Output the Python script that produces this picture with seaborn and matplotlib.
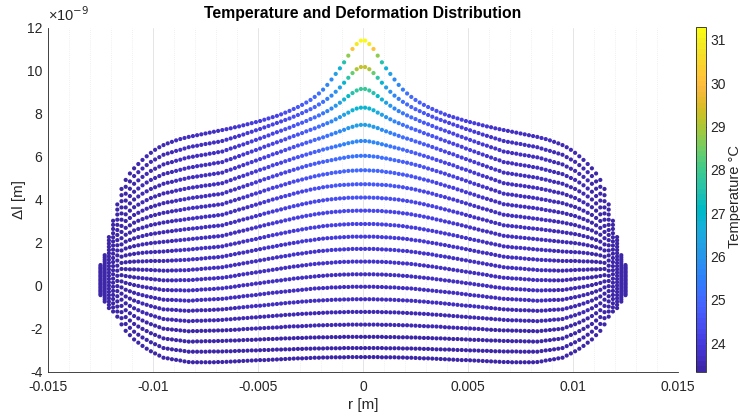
import numpy as np
import pandas as pd
import matplotlib
matplotlib.use("Agg")
import matplotlib.pyplot as plt
import seaborn as sns
from matplotlib.colors import ListedColormap, Normalize

# ---------------- data ----------------
# radial node positions of one half (r > 0); the chart is mirror-symmetric about r = 0
r_half = [0.0001, 0.0003, 0.0005, 0.0007, 0.0009, 0.0011, 0.0013, 0.0015, 0.0017, 0.0019,
          0.0021, 0.0023, 0.0025, 0.0027, 0.0029, 0.0031, 0.0033, 0.0035, 0.0037, 0.0039,
          0.0041, 0.0043, 0.0045, 0.0047, 0.0049, 0.0051, 0.0053, 0.0055, 0.0057, 0.0059,
          0.0061, 0.0063, 0.0065, 0.0067, 0.0069, 0.0071, 0.0073, 0.0075, 0.0077, 0.0079,
          0.0081, 0.0083, 0.0085, 0.0087, 0.0089, 0.0091, 0.0093, 0.0095, 0.0097, 0.0099,
          0.0101, 0.0103, 0.0105, 0.0107, 0.0109, 0.0111, 0.0113, 0.0115, 0.0117, 0.0119,
          0.0121, 0.0123, 0.0125]

# deformation (x1e-9 m) of each node row, from the bottom row (00) to the top row (22)
dl_row00 = [-3.32, -3.32, -3.32, -3.32, -3.33, -3.33, -3.33, -3.33, -3.34, -3.34,
            -3.35, -3.35, -3.36, -3.37, -3.38, -3.38, -3.39, -3.40, -3.41, -3.42,
            -3.43, -3.44, -3.45, -3.46, -3.46, -3.47, -3.48, -3.49, -3.50, -3.51,
            -3.52, -3.53, -3.54, -3.55, -3.55, -3.56, -3.56, -3.56, -3.56, -3.56,
            -3.56, -3.55, -3.52, -3.48, -3.45, -3.42, -3.38, -3.35, -3.25, -3.15,
            -3.05, -2.93, -2.80, -2.65, -2.50, -2.30, -2.10, -1.80, -1.44, -1.20,
            -1.04, -0.74, -0.44]
dl_row01 = [-2.90, -2.90, -2.90, -2.90, -2.90, -2.91, -2.91, -2.91, -2.91, -2.92,
            -2.92, -2.92, -2.93, -2.93, -2.94, -2.94, -2.95, -2.96, -2.96, -2.97,
            -2.97, -2.98, -2.99, -2.99, -3.00, -3.01, -3.01, -3.02, -3.03, -3.03,
            -3.04, -3.05, -3.05, -3.06, -3.06, -3.06, -3.06, -3.07, -3.07, -3.07,
            -3.07, -3.07, -3.04, -3.01, -2.99, -2.96, -2.93, -2.90, -2.81, -2.72,
            -2.63, -2.52, -2.41, -2.28, -2.14, -1.96, -1.78, -1.51, -1.20, -1.01,
            -0.89, -0.64, -0.38]
dl_row02 = [-2.38, -2.38, -2.38, -2.38, -2.38, -2.39, -2.39, -2.39, -2.40, -2.40,
            -2.40, -2.41, -2.41, -2.42, -2.43, -2.43, -2.44, -2.45, -2.45, -2.46,
            -2.47, -2.48, -2.48, -2.49, -2.50, -2.51, -2.52, -2.52, -2.53, -2.54,
            -2.55, -2.55, -2.56, -2.57, -2.57, -2.58, -2.58, -2.58, -2.59, -2.59,
            -2.60, -2.60, -2.58, -2.55, -2.53, -2.50, -2.48, -2.45, -2.37, -2.29,
            -2.21, -2.11, -2.01, -1.90, -1.78, -1.62, -1.46, -1.23, -0.97, -0.82,
            -0.74, -0.54, -0.31]
dl_row03 = [-1.81, -1.81, -1.81, -1.81, -1.82, -1.82, -1.82, -1.83, -1.83, -1.84,
            -1.84, -1.85, -1.86, -1.87, -1.88, -1.89, -1.89, -1.90, -1.91, -1.93,
            -1.94, -1.95, -1.96, -1.97, -1.98, -1.99, -2.00, -2.01, -2.02, -2.04,
            -2.05, -2.06, -2.07, -2.08, -2.08, -2.09, -2.09, -2.10, -2.10, -2.11,
            -2.11, -2.12, -2.10, -2.08, -2.06, -2.04, -2.02, -2.00, -1.93, -1.86,
            -1.79, -1.71, -1.62, -1.52, -1.41, -1.28, -1.14, -0.94, -0.73, -0.62,
            -0.59, -0.45, -0.25]
dl_row04 = [-1.22, -1.22, -1.22, -1.22, -1.23, -1.23, -1.24, -1.24, -1.25, -1.26,
            -1.27, -1.28, -1.29, -1.30, -1.31, -1.32, -1.34, -1.35, -1.36, -1.38,
            -1.39, -1.41, -1.42, -1.44, -1.45, -1.47, -1.48, -1.50, -1.51, -1.53,
            -1.54, -1.56, -1.57, -1.59, -1.60, -1.61, -1.61, -1.62, -1.63, -1.63,
            -1.64, -1.65, -1.63, -1.62, -1.60, -1.58, -1.57, -1.55, -1.49, -1.43,
            -1.37, -1.30, -1.23, -1.14, -1.05, -0.94, -0.82, -0.65, -0.49, -0.43,
            -0.44, -0.35, -0.19]
dl_row05 = [-0.63, -0.63, -0.63, -0.64, -0.64, -0.65, -0.65, -0.66, -0.67, -0.68,
            -0.69, -0.70, -0.71, -0.73, -0.74, -0.76, -0.78, -0.79, -0.81, -0.83,
            -0.85, -0.87, -0.89, -0.91, -0.93, -0.94, -0.96, -0.98, -1.00, -1.02,
            -1.04, -1.06, -1.08, -1.10, -1.11, -1.12, -1.13, -1.14, -1.14, -1.15,
            -1.16, -1.17, -1.16, -1.15, -1.13, -1.12, -1.11, -1.10, -1.05, -1.00,
            -0.95, -0.89, -0.83, -0.76, -0.69, -0.60, -0.50, -0.37, -0.25, -0.24,
            -0.29, -0.25, -0.12]
dl_row06 = [-0.05, -0.05, -0.05, -0.06, -0.06, -0.07, -0.08, -0.08, -0.10, -0.11,
            -0.12, -0.13, -0.15, -0.17, -0.19, -0.21, -0.23, -0.25, -0.27, -0.29,
            -0.31, -0.33, -0.35, -0.38, -0.40, -0.43, -0.45, -0.47, -0.49, -0.52,
            -0.54, -0.56, -0.59, -0.61, -0.62, -0.63, -0.64, -0.65, -0.66, -0.67,
            -0.69, -0.70, -0.69, -0.68, -0.67, -0.66, -0.66, -0.65, -0.61, -0.57,
            -0.53, -0.49, -0.44, -0.39, -0.33, -0.26, -0.19, -0.08, -0.02, -0.05,
            -0.14, -0.15, -0.06]
dl_row07 = [0.53, 0.53, 0.53, 0.52, 0.52, 0.51, 0.50, 0.49, 0.48, 0.46,
            0.45, 0.43, 0.41, 0.39, 0.37, 0.35, 0.33, 0.30, 0.28, 0.25,
            0.23, 0.20, 0.18, 0.15, 0.12, 0.10, 0.07, 0.04, 0.02, -0.01,
            -0.04, -0.07, -0.09, -0.12, -0.13, -0.15, -0.16, -0.17, -0.18, -0.20,
            -0.21, -0.22, -0.22, -0.21, -0.21, -0.21, -0.20, -0.20, -0.17, -0.14,
            -0.11, -0.08, -0.05, -0.01, 0.03, 0.08, 0.13, 0.20, 0.22, 0.14,
            0.01, -0.05, 0.01]
dl_row08 = [1.12, 1.12, 1.12, 1.11, 1.11, 1.10, 1.09, 1.07, 1.06, 1.04,
            1.03, 1.01, 0.99, 0.96, 0.94, 0.91, 0.89, 0.86, 0.83, 0.80,
            0.77, 0.74, 0.71, 0.68, 0.65, 0.62, 0.59, 0.56, 0.53, 0.50,
            0.46, 0.43, 0.40, 0.37, 0.36, 0.34, 0.33, 0.32, 0.30, 0.29,
            0.27, 0.26, 0.26, 0.26, 0.25, 0.25, 0.25, 0.25, 0.27, 0.29,
            0.31, 0.33, 0.35, 0.37, 0.39, 0.42, 0.45, 0.49, 0.46, 0.33,
            0.16, 0.05, 0.07]
dl_row09 = [1.71, 1.71, 1.71, 1.70, 1.69, 1.68, 1.67, 1.66, 1.64, 1.62,
            1.61, 1.58, 1.56, 1.53, 1.50, 1.48, 1.45, 1.41, 1.38, 1.35,
            1.32, 1.28, 1.25, 1.21, 1.18, 1.14, 1.11, 1.07, 1.04, 1.00,
            0.97, 0.93, 0.90, 0.86, 0.84, 0.83, 0.81, 0.80, 0.78, 0.76,
            0.75, 0.73, 0.72, 0.72, 0.71, 0.71, 0.70, 0.70, 0.71, 0.72,
            0.73, 0.74, 0.74, 0.75, 0.76, 0.76, 0.77, 0.78, 0.70, 0.53,
            0.31, 0.14, 0.13]
dl_row10 = [2.28, 2.28, 2.28, 2.27, 2.26, 2.25, 2.24, 2.22, 2.21, 2.19,
            2.17, 2.14, 2.11, 2.09, 2.06, 2.02, 1.99, 1.96, 1.92, 1.89,
            1.85, 1.81, 1.78, 1.74, 1.70, 1.66, 1.62, 1.58, 1.54, 1.51,
            1.47, 1.43, 1.39, 1.35, 1.33, 1.31, 1.30, 1.28, 1.26, 1.24,
            1.23, 1.21, 1.20, 1.19, 1.18, 1.17, 1.16, 1.15, 1.15, 1.15,
            1.15, 1.14, 1.13, 1.13, 1.12, 1.11, 1.09, 1.06, 0.93, 0.72,
            0.46, 0.24, 0.20]
dl_row11 = [2.87, 2.87, 2.87, 2.86, 2.85, 2.84, 2.82, 2.81, 2.79, 2.77,
            2.74, 2.71, 2.69, 2.65, 2.62, 2.58, 2.55, 2.51, 2.47, 2.43,
            2.39, 2.35, 2.31, 2.26, 2.22, 2.17, 2.13, 2.09, 2.05, 2.00,
            1.96, 1.92, 1.88, 1.83, 1.81, 1.79, 1.77, 1.76, 1.74, 1.72,
            1.70, 1.68, 1.67, 1.65, 1.64, 1.62, 1.61, 1.59, 1.58, 1.57,
            1.56, 1.55, 1.53, 1.51, 1.48, 1.45, 1.41, 1.35, 1.17, 0.91,
            0.61, 0.34, 0.26]
dl_row12 = [3.49, 3.49, 3.48, 3.48, 3.47, 3.45, 3.44, 3.42, 3.40, 3.37,
            3.35, 3.32, 3.28, 3.25, 3.21, 3.17, 3.13, 3.08, 3.04, 2.99,
            2.95, 2.90, 2.86, 2.81, 2.76, 2.71, 2.66, 2.61, 2.56, 2.52,
            2.47, 2.42, 2.37, 2.32, 2.30, 2.28, 2.26, 2.24, 2.22, 2.20,
            2.18, 2.16, 2.14, 2.12, 2.10, 2.08, 2.06, 2.04, 2.02, 2.00,
            1.98, 1.95, 1.92, 1.88, 1.84, 1.79, 1.73, 1.64, 1.41, 1.10,
            0.76, 0.44, 0.32]
dl_row13 = [4.10, 4.10, 4.09, 4.09, 4.07, 4.06, 4.04, 4.02, 4.00, 3.97,
            3.94, 3.91, 3.87, 3.83, 3.79, 3.74, 3.70, 3.65, 3.60, 3.55,
            3.50, 3.45, 3.40, 3.35, 3.29, 3.24, 3.18, 3.13, 3.08, 3.03,
            2.97, 2.92, 2.87, 2.81, 2.79, 2.77, 2.75, 2.73, 2.70, 2.68,
            2.66, 2.64, 2.62, 2.59, 2.57, 2.54, 2.52, 2.49, 2.46, 2.43,
            2.40, 2.36, 2.31, 2.26, 2.20, 2.13, 2.05, 1.92, 1.64, 1.29,
            0.91, 0.54, 0.39]
dl_row14 = [4.72, 4.72, 4.71, 4.70, 4.69, 4.68, 4.66, 4.63, 4.61, 4.58,
            4.54, 4.51, 4.47, 4.42, 4.38, 4.33, 4.28, 4.22, 4.17, 4.12,
            4.06, 4.01, 3.95, 3.89, 3.83, 3.77, 3.71, 3.65, 3.59, 3.54,
            3.48, 3.42, 3.36, 3.30, 3.28, 3.25, 3.23, 3.21, 3.18, 3.16,
            3.13, 3.11, 3.08, 3.05, 3.03, 3.00, 2.97, 2.94, 2.90, 2.86,
            2.82, 2.76, 2.70, 2.64, 2.57, 2.47, 2.37, 2.21, 1.88, 1.49,
            1.06, 0.63, 0.45]
dl_row15 = [5.37, 5.36, 5.35, 5.34, 5.32, 5.29, 5.27, 5.24, 5.20, 5.17,
            5.13, 5.09, 5.04, 4.99, 4.94, 4.89, 4.84, 4.78, 4.72, 4.66,
            4.60, 4.55, 4.48, 4.42, 4.35, 4.29, 4.23, 4.16, 4.10, 4.04,
            3.98, 3.92, 3.86, 3.79, 3.77, 3.74, 3.72, 3.69, 3.67, 3.64,
            3.62, 3.59, 3.56, 3.52, 3.49, 3.46, 3.42, 3.39, 3.34, 3.29,
            3.24, 3.17, 3.10, 3.02, 2.93, 2.81, 2.69, 2.50, 2.12, 1.68,
            1.21, 0.73, 0.51]
dl_row16 = [6.04, 6.03, 6.01, 5.99, 5.95, 5.92, 5.88, 5.84, 5.80, 5.76,
            5.72, 5.67, 5.62, 5.57, 5.51, 5.45, 5.39, 5.33, 5.27, 5.21,
            5.14, 5.08, 5.01, 4.95, 4.88, 4.81, 4.74, 4.68, 4.61, 4.55,
            4.48, 4.42, 4.35, 4.28, 4.25, 4.23, 4.20, 4.17, 4.14, 4.12,
            4.09, 4.06, 4.02, 3.99, 3.95, 3.91, 3.88, 3.84, 3.78, 3.72,
            3.66, 3.58, 3.49, 3.39, 3.29, 3.15, 3.01, 2.78, 2.36, 1.87,
            1.36, 0.83, 0.58]
dl_row17 = [6.73, 6.71, 6.67, 6.63, 6.58, 6.53, 6.48, 6.43, 6.38, 6.33,
            6.27, 6.22, 6.16, 6.10, 6.04, 5.98, 5.92, 5.85, 5.79, 5.72,
            5.66, 5.60, 5.52, 5.45, 5.39, 5.32, 5.25, 5.18, 5.11, 5.05,
            4.98, 4.91, 4.84, 4.77, 4.74, 4.71, 4.68, 4.66, 4.63, 4.60,
            4.57, 4.54, 4.50, 4.46, 4.42, 4.37, 4.33, 4.29, 4.22, 4.15,
            4.08, 3.98, 3.88, 3.77, 3.65, 3.49, 3.32, 3.07, 2.59, 2.06,
            1.51, 0.93, 0.64]
dl_row18 = [7.48, 7.45, 7.39, 7.33, 7.25, 7.18, 7.11, 7.04, 6.97, 6.90,
            6.84, 6.78, 6.71, 6.65, 6.58, 6.52, 6.45, 6.38, 6.31, 6.24,
            6.17, 6.11, 6.03, 5.96, 5.89, 5.82, 5.75, 5.68, 5.61, 5.54,
            5.47, 5.40, 5.34, 5.26, 5.23, 5.20, 5.17, 5.14, 5.11, 5.08,
            5.05, 5.02, 4.97, 4.93, 4.88, 4.83, 4.79, 4.74, 4.66, 4.58,
            4.50, 4.39, 4.28, 4.15, 4.01, 3.83, 3.64, 3.36, 2.83, 2.25,
            1.66, 1.03, 0.70]
dl_row19 = [8.28, 8.24, 8.16, 8.05, 7.95, 7.84, 7.74, 7.64, 7.56, 7.48,
            7.40, 7.32, 7.25, 7.18, 7.10, 7.03, 6.96, 6.89, 6.81, 6.74,
            6.67, 6.60, 6.53, 6.46, 6.38, 6.31, 6.24, 6.17, 6.10, 6.03,
            5.96, 5.89, 5.83, 5.75, 5.72, 5.69, 5.65, 5.62, 5.59, 5.56,
            5.52, 5.49, 5.44, 5.39, 5.34, 5.29, 5.24, 5.19, 5.10, 5.01,
            4.92, 4.80, 4.67, 4.52, 4.37, 4.17, 3.96, 3.64, 3.07, 2.44,
            1.81, 1.13, 0.77]
dl_row20 = [9.15, 9.08, 8.96, 8.82, 8.66, 8.51, 8.37, 8.24, 8.12, 8.02,
            7.92, 7.83, 7.75, 7.66, 7.58, 7.51, 7.43, 7.35, 7.28, 7.21,
            7.14, 7.07, 6.99, 6.92, 6.85, 6.78, 6.71, 6.64, 6.57, 6.51,
            6.44, 6.38, 6.31, 6.24, 6.21, 6.17, 6.14, 6.10, 6.07, 6.04,
            6.00, 5.97, 5.92, 5.86, 5.81, 5.75, 5.70, 5.64, 5.54, 5.44,
            5.34, 5.20, 5.06, 4.90, 4.74, 4.51, 4.28, 3.93, 3.31, 2.64,
            1.96, 1.22, 0.83]
dl_row21 = [10.17, 10.07, 9.89, 9.67, 9.44, 9.22, 9.02, 8.84, 8.69, 8.55,
            8.43, 8.31, 8.21, 8.12, 8.03, 7.94, 7.86, 7.78, 7.71, 7.64,
            7.57, 7.50, 7.43, 7.36, 7.29, 7.23, 7.16, 7.10, 7.03, 6.97,
            6.91, 6.85, 6.79, 6.73, 6.69, 6.66, 6.62, 6.59, 6.55, 6.51,
            6.48, 6.44, 6.38, 6.32, 6.27, 6.21, 6.15, 6.09, 5.98, 5.87,
            5.76, 5.61, 5.45, 5.28, 5.10, 4.85, 4.60, 4.21, 3.54, 2.83,
            2.11, 1.32, 0.89]
dl_row22 = [11.40, 11.24, 11.01, 10.70, 10.39, 10.11, 9.85, 9.59, 9.34, 9.12,
            8.94, 8.78, 8.64, 8.52, 8.41, 8.31, 8.22, 8.13, 8.05, 7.97,
            7.90, 7.84, 7.78, 7.72, 7.66, 7.61, 7.56, 7.51, 7.46, 7.41,
            7.37, 7.32, 7.28, 7.24, 7.20, 7.16, 7.12, 7.08, 7.04, 7.00,
            6.96, 6.92, 6.87, 6.82, 6.76, 6.69, 6.62, 6.54, 6.44, 6.32,
            6.18, 6.02, 5.85, 5.66, 5.46, 5.22, 4.92, 4.50, 3.78, 3.02,
            2.26, 1.42, 0.96]

# temperature (deg C) of each node row; the outer part of every row is the same cool rim
t_rim = [23.6] * 5 + [23.5] * 9 + [23.4] * 9
t_row00 = [23.4] * 63
t_row01 = [23.4] * 63
t_row02 = [23.4] * 63
t_row03 = [23.5] * 30 + [23.4] * 33
t_row04 = [23.5] * 54 + [23.4] * 9
t_row05 = [23.6] * 30 + [23.5] * 24 + [23.4] * 9
t_row06 = [23.7] * 12 + [23.6] * 28 + t_rim
t_row07 = [23.7] * 22 + [23.6] * 18 + t_rim
t_row08 = [23.8] * 14 + [23.7] * 13 + [23.6] * 13 + t_rim
t_row09 = [23.9] * 10 + [23.8] * 10 + [23.7] * 10 + [23.6] * 10 + t_rim
t_row10 = [24.0] * 8 + [23.9] * 8 + [23.8] * 8 + [23.7] * 8 + [23.6] * 8 + t_rim
t_row11 = [24.1] * 8 + [24.0] * 8 + [23.9] * 6 + [23.8] * 6 + [23.7] * 6 + [23.6] * 6 + t_rim
t_row12 = [24.3, 24.3, 24.3, 24.3, 24.3, 24.3, 24.2, 24.2, 24.2, 24.2,
           24.2, 24.1, 24.1, 24.1, 24.1, 24.0, 24.0, 24.0, 24.0, 23.9,
           23.9, 23.9, 23.8, 23.8, 23.8, 23.8, 23.7, 23.7, 23.7, 23.7,
           23.6, 23.6, 23.6, 23.6, 23.6, 23.6, 23.6, 23.6, 23.6, 23.6] + t_rim
t_row13 = [24.5, 24.5, 24.5, 24.5, 24.4, 24.4, 24.4, 24.4, 24.3, 24.3,
           24.3, 24.3, 24.2, 24.2, 24.2, 24.1, 24.1, 24.1, 24.0, 24.0,
           24.0, 23.9, 23.9, 23.9, 23.8, 23.8, 23.8, 23.7, 23.7, 23.7,
           23.7, 23.6, 23.6, 23.6, 23.6, 23.6, 23.6, 23.6, 23.6, 23.6] + t_rim
t_row14 = [24.7, 24.7, 24.7, 24.7, 24.6, 24.6, 24.6, 24.5, 24.5, 24.4,
           24.4, 24.4, 24.3, 24.3, 24.2, 24.2, 24.1, 24.1, 24.1, 24.0,
           24.0, 23.9, 23.9, 23.9, 23.8, 23.8, 23.8, 23.7, 23.7, 23.7,
           23.7, 23.6, 23.6, 23.6, 23.6, 23.6, 23.6, 23.6, 23.6, 23.6] + t_rim
t_row15 = [25.0, 25.0, 25.0, 24.9, 24.9, 24.9, 24.8, 24.8, 24.7, 24.6,
           24.6, 24.5, 24.5, 24.4, 24.4, 24.3, 24.3, 24.2, 24.2, 24.1,
           24.1, 24.0, 24.0, 23.9, 23.9, 23.9, 23.8, 23.8, 23.8, 23.7,
           23.7, 23.7, 23.7, 23.6, 23.6, 23.6, 23.6, 23.6, 23.6, 23.6] + t_rim
t_row16 = [25.3, 25.3, 25.3, 25.2, 25.2, 25.1, 25.0, 25.0, 24.9, 24.8,
           24.7, 24.7, 24.6, 24.5, 24.5, 24.4, 24.3, 24.3, 24.2, 24.2,
           24.1, 24.1, 24.0, 24.0, 23.9, 23.9, 23.9, 23.8, 23.8, 23.8,
           23.7, 23.7, 23.7, 23.7, 23.6, 23.6, 23.6, 23.6, 23.6, 23.6] + t_rim
t_row17 = [25.7, 25.7, 25.6, 25.6, 25.5, 25.4, 25.3, 25.2, 25.1, 25.0,
           24.9, 24.8, 24.7, 24.6, 24.5, 24.5, 24.4, 24.3, 24.3, 24.2,
           24.2, 24.1, 24.1, 24.0, 24.0, 23.9, 23.9, 23.9, 23.8, 23.8,
           23.8, 23.7, 23.7, 23.7, 23.7, 23.6, 23.6, 23.6, 23.6, 23.6] + t_rim
t_row18 = [26.2, 26.2, 26.1, 26.0, 25.8, 25.7, 25.5, 25.4, 25.2, 25.1,
           25.0, 24.9, 24.8, 24.7, 24.6, 24.5, 24.4, 24.4, 24.3, 24.2,
           24.2, 24.1, 24.1, 24.0, 24.0, 23.9, 23.9, 23.9, 23.8, 23.8,
           23.8, 23.8, 23.7, 23.7, 23.7, 23.7, 23.6, 23.6, 23.6, 23.6] + t_rim
t_row19 = [26.9, 26.9, 26.7, 26.5, 26.3, 26.0, 25.8, 25.6, 25.4, 25.2,
           25.1, 24.9, 24.8, 24.7, 24.6, 24.5, 24.5, 24.4, 24.3, 24.3,
           24.2, 24.1, 24.1, 24.0, 24.0, 24.0, 23.9, 23.9, 23.9, 23.8,
           23.8, 23.8, 23.7, 23.7, 23.7, 23.7, 23.7, 23.6, 23.6, 23.6] + t_rim
t_row20 = [27.9, 27.8, 27.5, 27.1, 26.7, 26.3, 26.0, 25.7, 25.5, 25.3,
           25.1, 25.0, 24.9, 24.8, 24.7, 24.6, 24.5, 24.4, 24.4, 24.3,
           24.2, 24.2, 24.1, 24.1, 24.0, 24.0, 24.0, 23.9, 23.9, 23.9,
           23.8, 23.8, 23.8, 23.7, 23.7, 23.7, 23.7, 23.7, 23.6, 23.6] + t_rim
t_row21 = [29.3, 29.0, 28.4, 27.6, 26.9, 26.3, 25.9, 25.6, 25.4, 25.2,
           25.0, 24.9, 24.8, 24.7, 24.6, 24.5, 24.4, 24.4, 24.3, 24.2,
           24.2, 24.1, 24.1, 24.0, 24.0, 24.0, 23.9, 23.9, 23.9, 23.8,
           23.8, 23.8, 23.8, 23.7, 23.7, 23.7, 23.7, 23.7, 23.6, 23.6] + t_rim
t_row22 = [31.2, 30.9, 30.1, 28.7, 27.5, 26.7, 26.2, 25.8, 25.6, 25.4,
           25.2, 25.0, 24.9, 24.8, 24.7, 24.6, 24.5, 24.4, 24.4, 24.3,
           24.2, 24.2, 24.1, 24.1, 24.0, 24.0, 24.0, 23.9, 23.9, 23.9,
           23.8, 23.8, 23.8, 23.8, 23.7, 23.7, 23.7, 23.7, 23.7, 23.6] + t_rim

dl_rows = [dl_row00, dl_row01, dl_row02, dl_row03, dl_row04, dl_row05, dl_row06, dl_row07,
           dl_row08, dl_row09, dl_row10, dl_row11, dl_row12, dl_row13, dl_row14, dl_row15,
           dl_row16, dl_row17, dl_row18, dl_row19, dl_row20, dl_row21, dl_row22]
t_rows = [t_row00, t_row01, t_row02, t_row03, t_row04, t_row05, t_row06, t_row07,
          t_row08, t_row09, t_row10, t_row11, t_row12, t_row13, t_row14, t_row15,
          t_row16, t_row17, t_row18, t_row19, t_row20, t_row21, t_row22]

x_ticks = [-0.015, -0.01, -0.005, 0, 0.005, 0.01, 0.015]
x_ticklabels = ["-0.015", "-0.01", "-0.005", "0", "0.005", "0.01", "0.015"]
y_ticks = [-4, -2, 0, 2, 4, 6, 8, 10, 12]
cbar_ticks = [24, 25, 26, 27, 28, 29, 30, 31]
t_min, t_max = 23.34, 31.29

# MATLAB parula colormap (64 entries)
parula = [
    [0.2422, 0.1504, 0.6603], [0.2504, 0.1650, 0.7076], [0.2578, 0.1818, 0.7511], [0.2647, 0.1978, 0.7952],
    [0.2706, 0.2147, 0.8364], [0.2751, 0.2342, 0.8710], [0.2783, 0.2559, 0.8991], [0.2803, 0.2782, 0.9221],
    [0.2813, 0.3006, 0.9414], [0.2810, 0.3228, 0.9579], [0.2795, 0.3447, 0.9717], [0.2760, 0.3667, 0.9829],
    [0.2699, 0.3892, 0.9906], [0.2602, 0.4123, 0.9952], [0.2440, 0.4358, 0.9988], [0.2206, 0.4603, 0.9973],
    [0.1963, 0.4847, 0.9892], [0.1834, 0.5074, 0.9798], [0.1786, 0.5289, 0.9682], [0.1764, 0.5499, 0.9520],
    [0.1687, 0.5703, 0.9359], [0.1540, 0.5902, 0.9218], [0.1460, 0.6091, 0.9079], [0.1380, 0.6276, 0.8973],
    [0.1248, 0.6459, 0.8883], [0.1113, 0.6635, 0.8763], [0.0952, 0.6798, 0.8598], [0.0689, 0.6948, 0.8394],
    [0.0297, 0.7082, 0.8163], [0.0036, 0.7203, 0.7917], [0.0067, 0.7312, 0.7660], [0.0433, 0.7411, 0.7394],
    [0.0964, 0.7500, 0.7120], [0.1408, 0.7584, 0.6842], [0.1717, 0.7670, 0.6554], [0.1938, 0.7758, 0.6251],
    [0.2161, 0.7843, 0.5923], [0.2470, 0.7918, 0.5567], [0.2906, 0.7973, 0.5188], [0.3406, 0.8008, 0.4789],
    [0.3909, 0.8029, 0.4354], [0.4456, 0.8024, 0.3909], [0.5044, 0.7993, 0.3480], [0.5616, 0.7942, 0.3045],
    [0.6174, 0.7876, 0.2612], [0.6720, 0.7793, 0.2227], [0.7242, 0.7698, 0.1910], [0.7738, 0.7598, 0.1646],
    [0.8203, 0.7498, 0.1535], [0.8634, 0.7406, 0.1596], [0.9035, 0.7330, 0.1774], [0.9393, 0.7288, 0.2100],
    [0.9728, 0.7298, 0.2394], [0.9956, 0.7434, 0.2371], [0.9970, 0.7659, 0.2199], [0.9952, 0.7893, 0.2028],
    [0.9892, 0.8136, 0.1885], [0.9786, 0.8386, 0.1766], [0.9676, 0.8639, 0.1643], [0.9610, 0.8890, 0.1537],
    [0.9597, 0.9135, 0.1423], [0.9628, 0.9373, 0.1265], [0.9691, 0.9606, 0.1064], [0.9769, 0.9839, 0.0805]]
cmap = ListedColormap(parula, name="parula")

# ---------------- long table (both halves) ----------------
recs = []
for dl, tt in zip(dl_rows, t_rows):
    for r, v, t in zip(r_half, dl, tt):
        recs.append((-r, v, t))
        recs.append((r, v, t))
df = pd.DataFrame(recs, columns=["r", "dl", "T"])

# ---------------- figure ----------------
sns.set_theme(style="white")
plt.rcParams['font.family'] = ['Liberation Sans', 'DejaVu Sans']
ink = "#262626"
W, H = 740, 417
fig = plt.figure(figsize=(7.4, 4.17), dpi=100)
ax = fig.add_axes([48 / W, 1 - 371.7 / H, (678 - 48) / W, (371.7 - 27.7) / H])
cax = fig.add_axes([696 / W, 1 - 371.7 / H, 10 / W, (371.7 - 27.3) / H])

norm = Normalize(t_min, t_max)
sns.scatterplot(data=df, x="r", y="dl", hue="T", hue_norm=norm, palette=cmap,
                s=9, linewidth=0, legend=False, ax=ax, zorder=3)

ax.set_xlim(-0.015, 0.015)
ax.set_ylim(-4, 12)
ax.set_xticks(x_ticks)
ax.set_xticklabels(x_ticklabels)
ax.set_yticks(y_ticks)
ax.set_yticklabels([str(v) for v in y_ticks])
for i in range(31):
    xv = -0.015 + 0.001 * i
    major = (i % 5 == 0)
    ax.axvline(xv, color="#e0e0e0" if major else "#ebebeb", lw=0.6,
               ls="-" if major else (0, (1, 1.5)), zorder=0)
for s in ["top", "right"]:
    ax.spines[s].set_visible(False)
for s in ["left", "bottom"]:
    ax.spines[s].set_color(ink)
    ax.spines[s].set_linewidth(0.6)
ax.tick_params(axis="both", direction="in", length=4, width=0.6, color=ink,
               labelsize=10, labelcolor=ink)
ax.tick_params(axis="x", pad=6)
ax.tick_params(axis="y", pad=4)
ax.set_xlabel("r [m]", fontsize=11, color=ink, labelpad=3)
ax.set_ylabel("Δl [m]", fontsize=11, color=ink, labelpad=1)
ax.set_title("Temperature and Deformation Distribution", fontsize=11.3, fontweight="bold",
             color="black", pad=7)
ax.text(0.0, 1.012, "×10$^{-9}$", transform=ax.transAxes, fontsize=10.5, color=ink,
        ha="left", va="bottom")

sm = plt.cm.ScalarMappable(norm=norm, cmap=cmap)
cb = fig.colorbar(sm, cax=cax)
cb.set_ticks(cbar_ticks)
cb.outline.set_edgecolor(ink)
cb.outline.set_linewidth(0.6)
cax.tick_params(direction="in", length=3, width=0.6, color=ink, labelsize=10,
                labelcolor=ink, pad=3)
fig.text(734.5 / W, 1 - 197 / H, "Temperature °C", rotation=90, ha="center", va="center",
         fontsize=10.5, color=ink)

fig.savefig("out.png", dpi=100)
